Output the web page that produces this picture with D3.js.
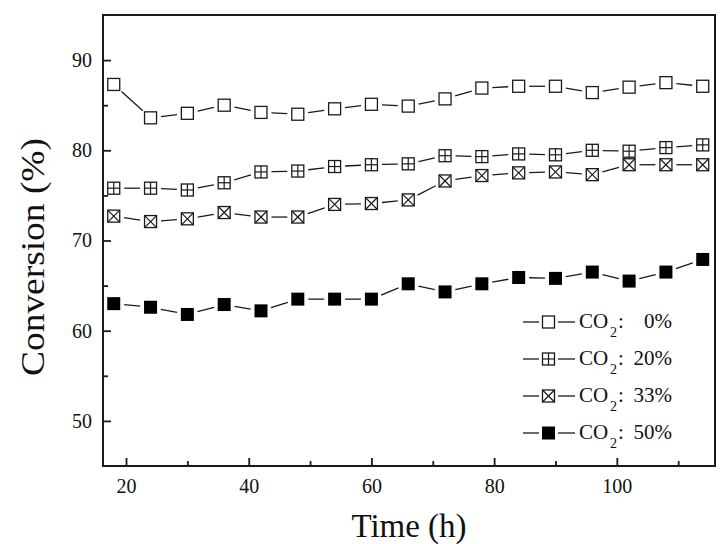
<!DOCTYPE html>
<html><head><meta charset="utf-8">
<script src="https://cdn.jsdelivr.net/npm/d3@7/dist/d3.min.js"></script>
<style>
html,body{margin:0;padding:0;background:#fff;}
svg{display:block;}
svg text{font-family:"Liberation Serif","Times New Roman",serif !important;}
</style></head>
<body>
<svg id="chart" width="727" height="544"></svg>
<script>
const times = [18,24,30,36,42,48,54,60,66,72,78,84,90,96,102,108,114];
const conv0  = [87.3,83.6,84.1,85.0,84.2,84.0,84.6,85.1,84.9,85.7,86.9,87.1,87.1,86.4,87.0,87.5,87.1];
const conv20 = [75.8,75.8,75.6,76.4,77.6,77.7,78.2,78.4,78.5,79.4,79.3,79.6,79.5,80.0,79.9,80.3,80.6];
const conv33 = [72.7,72.1,72.4,73.1,72.6,72.6,74.0,74.1,74.5,76.6,77.2,77.5,77.6,77.3,78.4,78.4,78.4];
const conv50 = [63.0,62.6,61.8,62.9,62.2,63.5,63.5,63.5,65.2,64.3,65.2,65.9,65.8,66.5,65.5,66.5,67.9];
const seriesNames = ["0%","20%","33%","50%"];
const markerTypes = ["open","plus","cross","filled"];
const xMajor = [20,40,60,80,100];
const xMinor = [30,50,70,90,110];
const yMajor = [50,60,70,80,90];
const yMinor = [55,65,75,85];

const svg = d3.select("#chart");
const L=103, R=715, T=15, B=466;
const x = d3.scaleLinear().domain([16.25,116.0]).range([L,R]);
const y = d3.scaleLinear().domain([45,95]).range([B,T]);
const ink = "#1a1a1a";
const serif = "'Liberation Serif', 'Times New Roman', serif";

const gx = svg.append("g").attr("transform",`translate(0,${B})`)
  .call(d3.axisBottom(x).tickValues(xMajor).tickSize(-8).tickPadding(13).tickFormat(d3.format("d")));
const gxm = svg.append("g").attr("transform",`translate(0,${B})`)
  .call(d3.axisBottom(x).tickValues(xMinor).tickSize(-5).tickFormat(""));
const gy = svg.append("g").attr("transform",`translate(${L},0)`)
  .call(d3.axisLeft(y).tickValues(yMajor).tickSize(-8).tickPadding(11).tickFormat(d3.format("d")));
const gym = svg.append("g").attr("transform",`translate(${L},0)`)
  .call(d3.axisLeft(y).tickValues(yMinor).tickSize(-5).tickFormat(""));
[gx,gxm,gy,gym].forEach(g=>{
  g.attr("font-family",serif).attr("font-size",20);
  g.select(".domain").remove();
  g.selectAll("line").attr("stroke",ink).attr("stroke-width",1.8);
  g.selectAll("text").attr("fill","#111");
});

svg.append("rect").attr("x",L).attr("y",T).attr("width",R-L).attr("height",B-T)
  .attr("fill","none").attr("stroke",ink).attr("stroke-width",2);

function drawMarker(g, cx, cy, type, s){
  const h = s/2;
  if(type==="filled"){
    g.append("rect").attr("x",cx-h-0.5).attr("y",cy-h-0.5).attr("width",s+1).attr("height",s+1)
      .attr("fill","#000");
    return;
  }
  g.append("rect").attr("x",cx-h).attr("y",cy-h).attr("width",s).attr("height",s)
    .attr("fill","#fff").attr("stroke",ink).attr("stroke-width",1.3);
  if(type==="plus"){
    g.append("line").attr("x1",cx-h).attr("x2",cx+h).attr("y1",cy).attr("y2",cy).attr("stroke",ink).attr("stroke-width",1.2);
    g.append("line").attr("x1",cx).attr("x2",cx).attr("y1",cy-h).attr("y2",cy+h).attr("stroke",ink).attr("stroke-width",1.2);
  } else if(type==="cross"){
    g.append("line").attr("x1",cx-h).attr("x2",cx+h).attr("y1",cy-h).attr("y2",cy+h).attr("stroke",ink).attr("stroke-width",1.2);
    g.append("line").attr("x1",cx-h).attr("x2",cx+h).attr("y1",cy+h).attr("y2",cy-h).attr("stroke",ink).attr("stroke-width",1.2);
  }
}

const allSeries = [conv0, conv20, conv33, conv50];
const gap = 10.5;
allSeries.forEach((vals,si)=>{
  const g = svg.append("g");
  const pts = times.map((t,i)=>[x(t), y(vals[i])]);
  for(let i=0;i<pts.length-1;i++){
    const [x1,y1]=pts[i],[x2,y2]=pts[i+1];
    const dx=x2-x1, dy=y2-y1, len=Math.hypot(dx,dy);
    if(len<=2*gap) continue;
    const ux=dx/len, uy=dy/len;
    g.append("line").attr("x1",x1+ux*gap).attr("y1",y1+uy*gap)
      .attr("x2",x2-ux*gap).attr("y2",y2-uy*gap)
      .attr("stroke",ink).attr("stroke-width",1.3);
  }
  pts.forEach(p=>drawMarker(g,p[0],p[1],markerTypes[si],12));
});

const legY0 = 322, legDY = 37;
seriesNames.forEach((name,i)=>{
  const cy = legY0 + i*legDY;
  const g = svg.append("g").attr("font-family",serif);
  g.append("line").attr("x1",523).attr("x2",539).attr("y1",cy).attr("y2",cy).attr("stroke",ink).attr("stroke-width",1.3);
  g.append("line").attr("x1",558).attr("x2",575).attr("y1",cy).attr("y2",cy).attr("stroke",ink).attr("stroke-width",1.3);
  drawMarker(g,548.5,cy,markerTypes[i],12);
  const by = cy + 6;
  g.append("text").attr("x",579).attr("y",by).attr("fill","#111").attr("font-size",21).text("CO");
  g.append("text").attr("x",610).attr("y",by+9).attr("fill","#111").attr("font-size",14).text("2");
  g.append("text").attr("x",618).attr("y",by).attr("fill","#111").attr("font-size",21).text(":");
  g.append("text").attr("x",672).attr("y",by).attr("text-anchor","end").attr("fill","#111").attr("font-size",21).text(name);
});

svg.append("text").attr("x",(L+R)/2).attr("y",537).attr("text-anchor","middle")
  .attr("fill","#111").attr("font-family",serif).attr("font-size",33).text("Time (h)");
svg.append("text").attr("transform","translate(43.5,257) rotate(-90)").attr("text-anchor","middle")
  .attr("fill","#111").attr("font-family",serif).attr("font-size",34).attr("textLength",238).attr("lengthAdjust","spacingAndGlyphs")
  .text("Conversion (%)");
</script>
</body></html>
